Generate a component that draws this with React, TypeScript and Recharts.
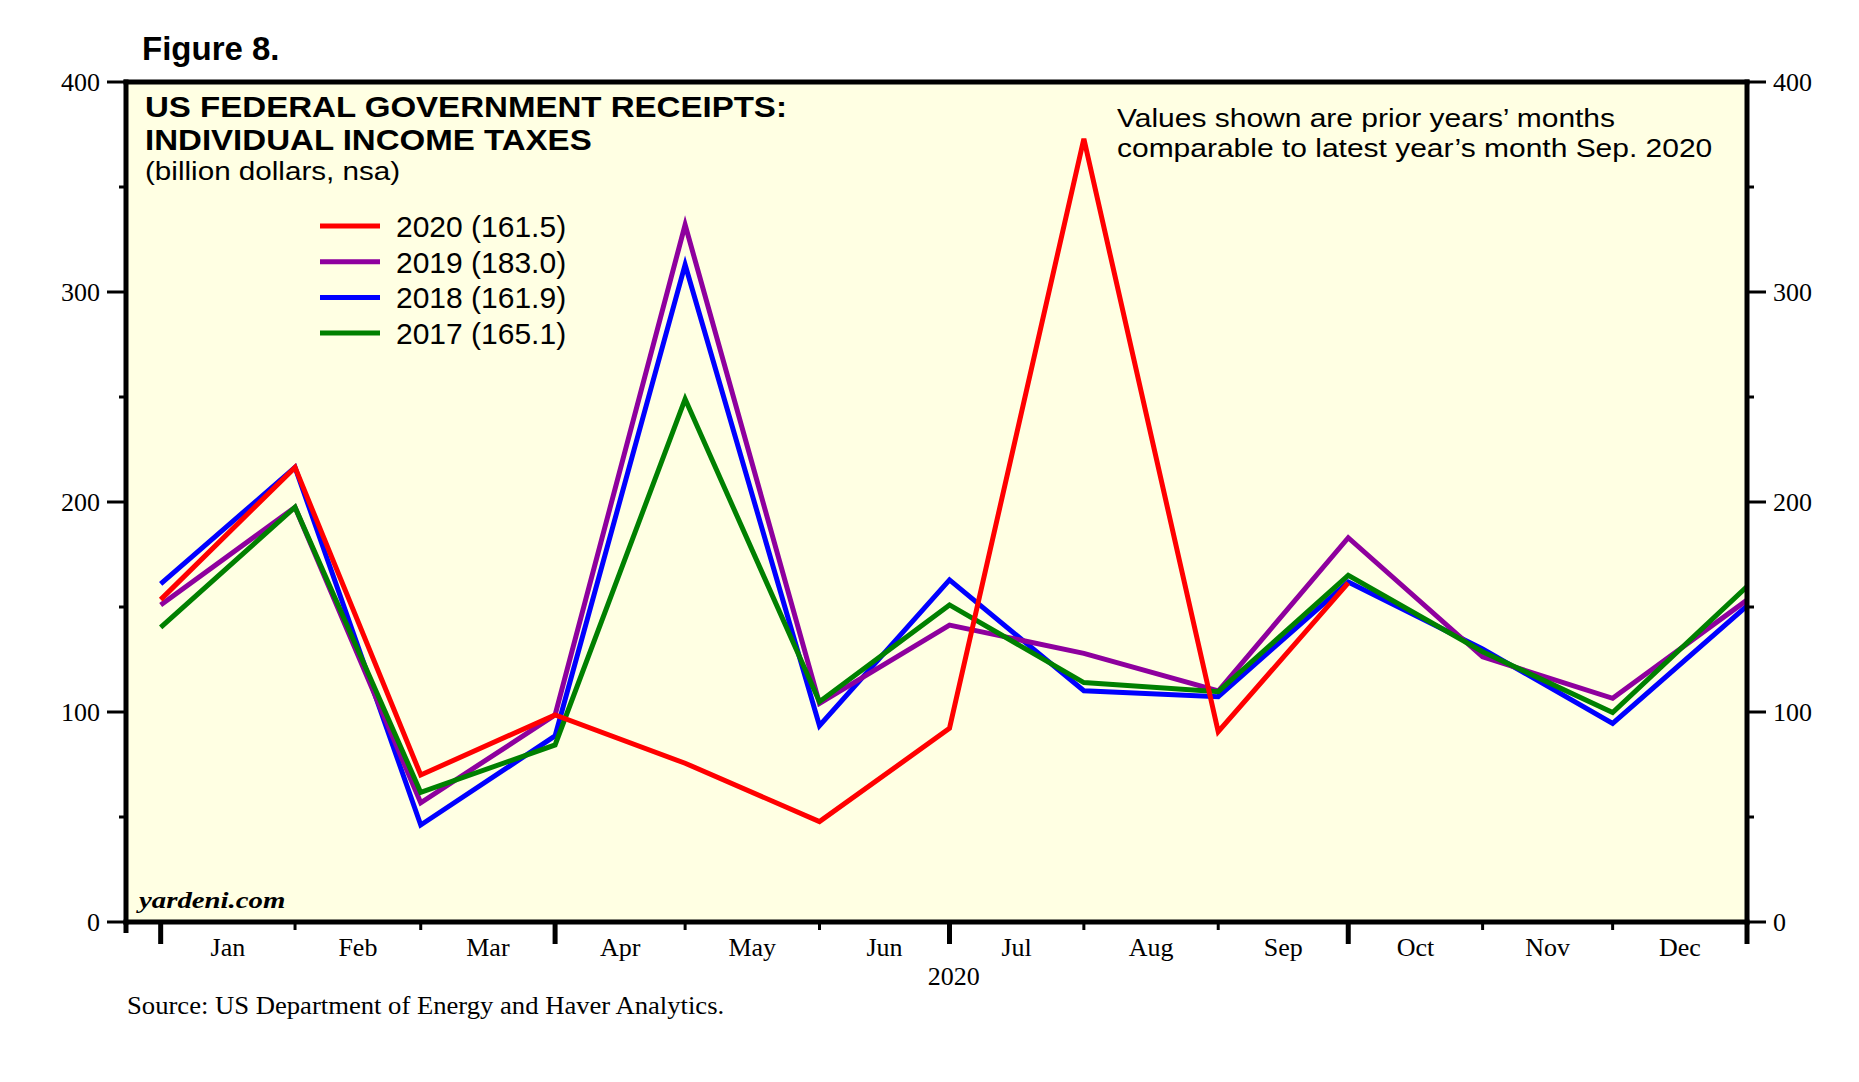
import React from 'react';
import { LineChart, Line, XAxis, YAxis, CartesianGrid, ReferenceLine, Legend } from 'recharts';

// ---- data ----
const monthLabels = ['Jan', 'Feb', 'Mar', 'Apr', 'May', 'Jun', 'Jul', 'Aug', 'Sep', 'Oct', 'Nov', 'Dec'];
const yearLabel = '2020';
// plotted point positions: day offset from Jan 1, 2020 of each month boundary
const xDays = [0, 31, 60, 91, 121, 152, 182, 213, 244, 274, 305, 335, 366];
const series2020 = [153.5, 216.5, 70, 98.6, 75.6, 47.8, 92.2, 373, 90.6, 161.5];
const series2019 = [151, 197.5, 56.8, 98.6, 332, 104.1, 141.4, 127.9, 110, 183.0, 126.3, 106.5, 153.3];
const series2018 = [161, 216.5, 46.2, 88.6, 313, 93.5, 162.9, 110.1, 107.3, 161.9, 130, 94.6, 150.5];
const series2017 = [140.3, 197.5, 61.7, 84.3, 249, 104.9, 151, 114, 109.7, 165.1, 128.7, 99.7, 159.7];
const legendNames = ['2020 (161.5)', '2019 (183.0)', '2018 (161.9)', '2017 (165.1)'];
const yTicks = [0, 50, 100, 150, 200, 250, 300, 350, 400];
const yLabelTicks = [0, 100, 200, 300, 400];
const quarterStarts = [0, 91, 182, 274, 366];
const xDomainStart = -8;

const COLORS = {
  y2020: '#FF0000',
  y2019: '#8E009E',
  y2018: '#0000FF',
  y2017: '#008000',
};
const BG = '#FFFFE3';
const SANS = '"Liberation Sans", Arial, sans-serif';
const SERIF = '"Liberation Serif", "Times New Roman", serif';

const data = xDays.map((x, i) => ({
  x,
  y2020: series2020[i] ?? null,
  y2019: series2019[i] ?? null,
  y2018: series2018[i] ?? null,
  y2017: series2017[i] ?? null,
}));

const midMonths = monthLabels.map((_, i) => (xDays[i] + xDays[i + 1]) / 2);
const yearTick = (xDays[0] + xDays[xDays.length - 1]) / 2;
const xTicks = [xDomainStart, ...xDays, ...midMonths, yearTick];

const XTick = (props: any) => {
  const { x, y, payload } = props;
  const v = payload.value;
  if (v === xDomainStart) {
    return <line x1={x} y1={y} x2={x} y2={y + 11} stroke="#000" strokeWidth={5} />;
  }
  if (xDays.includes(v)) {
    const q = quarterStarts.includes(v);
    return (
      <line x1={x} y1={y} x2={x} y2={y + (q ? 22 : 8)} stroke="#000" strokeWidth={q ? 5 : 3} />
    );
  }
  const mi = midMonths.indexOf(v);
  if (mi >= 0) {
    return (
      <text x={x} y={y + 34} textAnchor="middle" fontFamily={SERIF} fontSize={26} fill="#000">
        {monthLabels[mi]}
      </text>
    );
  }
  if (v === yearTick) {
    return (
      <text x={x} y={y + 63} textAnchor="middle" fontFamily={SERIF} fontSize={26} fill="#000">
        {yearLabel}
      </text>
    );
  }
  return null;
};

const makeYTick = (side: 'left' | 'right') => (props: any) => {
  const { x, y, payload } = props;
  const v = payload.value;
  const major = yLabelTicks.includes(v);
  const s = side === 'left' ? -1 : 1;
  const len = major ? 19 : 7;
  return (
    <g>
      <line x1={x} y1={y} x2={x + s * len} y2={y} stroke="#000" strokeWidth={3} />
      {major && (
        <text
          x={x + s * 26}
          y={y + 9}
          textAnchor={side === 'left' ? 'end' : 'start'}
          fontFamily={SERIF}
          fontSize={26}
          fill="#000"
        >
          {v}
        </text>
      )}
    </g>
  );
};
const LeftTick = makeYTick('left');
const RightTick = makeYTick('right');

const renderLegend = (props: any) => {
  const payload = (props.payload || []).slice().sort((a: any, b: any) =>
    String(b.value).localeCompare(String(a.value))
  );
  return (
    <svg width={320} height={160} style={{ display: 'block' }}>
      {payload.map((p: any, i: number) => {
        const cy = 26 + i * 35.7;
        return (
          <g key={p.value}>
            <line x1={20} y1={cy} x2={80} y2={cy} stroke={p.color} strokeWidth={5} />
            <text x={96} y={cy + 11} fontFamily={SANS} fontSize={30} fill="#000">
              {p.value}
            </text>
          </g>
        );
      })}
    </svg>
  );
};

const Stretched = ({ x, y, sx, children, ...rest }: any) => (
  <text transform={`translate(${x},${y}) scale(${sx},1)`} x={0} y={0} fill="#000" {...rest}>
    {children}
  </text>
);

const axisLineStyle = { stroke: '#000', strokeWidth: 5, strokeLinecap: 'square' as const };

export default function App() {
  return (
    <div style={{ position: 'absolute', left: 0, top: 0, width: 1859, height: 1082, background: '#fff' }}>
      <LineChart
        width={1859}
        height={1082}
        data={data}
        margin={{ top: 82, right: 32, bottom: 80, left: 46 }}
      >
        <CartesianGrid fill={BG} horizontal={false} vertical={false} yAxisId="left" />
        <XAxis
          dataKey="x"
          type="number"
          domain={[xDomainStart, xDays[xDays.length - 1]]}
          allowDataOverflow
          ticks={xTicks}
          interval={0}
          tickSize={0}
          tickMargin={0}
          tickLine={false}
          axisLine={axisLineStyle}
          tick={<XTick />}
          height={80}
        />
        <YAxis
          yAxisId="left"
          orientation="left"
          type="number"
          domain={[0, 400]}
          allowDataOverflow
          ticks={yTicks}
          interval={0}
          tickSize={0}
          tickMargin={0}
          tickLine={false}
          axisLine={axisLineStyle}
          tick={<LeftTick />}
          width={80}
        />
        <YAxis
          yAxisId="right"
          orientation="right"
          type="number"
          domain={[0, 400]}
          allowDataOverflow
          ticks={yTicks}
          interval={0}
          tickSize={0}
          tickMargin={0}
          tickLine={false}
          axisLine={axisLineStyle}
          tick={<RightTick />}
          width={80}
        />
        <ReferenceLine yAxisId="left" y={400} stroke="#000" strokeWidth={5} strokeLinecap="square" />
        <Line yAxisId="left" dataKey="y2018" name={legendNames[2]} stroke={COLORS.y2018} strokeWidth={5} dot={false} activeDot={false} isAnimationActive={false} />
        <Line yAxisId="left" dataKey="y2019" name={legendNames[1]} stroke={COLORS.y2019} strokeWidth={5} dot={false} activeDot={false} isAnimationActive={false} />
        <Line yAxisId="right" dataKey="y2017" name={legendNames[3]} stroke={COLORS.y2017} strokeWidth={5} dot={false} activeDot={false} isAnimationActive={false} />
        <Line yAxisId="left" dataKey="y2020" name={legendNames[0]} stroke={COLORS.y2020} strokeWidth={5} dot={false} activeDot={false} isAnimationActive={false} />
        <Legend
          layout="vertical"
          align="center"
          verticalAlign="middle"
          content={renderLegend}
          wrapperStyle={{ position: 'absolute', left: 300, top: 200, width: 320, height: 160 }}
        />
      </LineChart>
      <svg
        width={1859}
        height={1082}
        style={{ position: 'absolute', left: 0, top: 0, pointerEvents: 'none' }}
      >
        <text x={142} y={60} fontFamily={SANS} fontWeight="bold" fontSize={33} fill="#000">
          Figure 8.
        </text>
        <Stretched x={145} y={117} sx={1.14} fontFamily={SANS} fontWeight="bold" fontSize={29}>
          US FEDERAL GOVERNMENT RECEIPTS:
        </Stretched>
        <Stretched x={145} y={150} sx={1.14} fontFamily={SANS} fontWeight="bold" fontSize={29}>
          INDIVIDUAL INCOME TAXES
        </Stretched>
        <Stretched x={145} y={180} sx={1.14} fontFamily={SANS} fontSize={26}>
          (billion dollars, nsa)
        </Stretched>
        <Stretched x={1117} y={127} sx={1.14} fontFamily={SANS} fontSize={26.3}>
          Values shown are prior years’ months
        </Stretched>
        <Stretched x={1117} y={157} sx={1.14} fontFamily={SANS} fontSize={26.3}>
          comparable to latest year’s month Sep. 2020
        </Stretched>
        <Stretched x={139} y={908} sx={1.2} fontFamily={SERIF} fontStyle="italic" fontWeight="bold" fontSize={24}>
          yardeni.com
        </Stretched>
        <Stretched x={127} y={1014} sx={1.025} fontFamily={SERIF} fontSize={26}>
          Source: US Department of Energy and Haver Analytics.
        </Stretched>
      </svg>
    </div>
  );
}
